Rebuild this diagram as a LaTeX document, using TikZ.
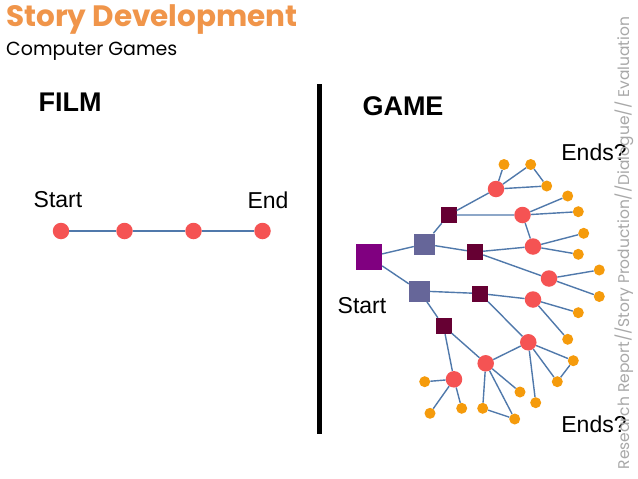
\documentclass[tikz,border=0pt]{standalone}
\usepackage{fontspec}
\setmainfont{Liberation Sans}
\newfontfamily\gothic{Poppins}
\definecolor{ttlorange}{HTML}{F0954A}
\definecolor{redc}{HTML}{F55353}
\definecolor{orc}{HTML}{F59B0C}
\definecolor{linec}{HTML}{5079AB}
\definecolor{purp}{HTML}{800080}
\definecolor{slate}{HTML}{666699}
\definecolor{maroon}{HTML}{660033}
\definecolor{sidegray}{HTML}{A8A8A8}
\tikzset{
  redn/.style={circle,fill=redc,inner sep=0pt,minimum size=16.5pt},
  orn/.style={circle,fill=orc,inner sep=0pt,minimum size=11pt},
  startsq/.style={rectangle,fill=purp,inner sep=0pt,minimum size=26pt},
  slatesq/.style={rectangle,fill=slate,inner sep=0pt,minimum size=21pt},
  darksq/.style={rectangle,fill=maroon,inner sep=0pt,minimum size=16pt},
  edge/.style={draw=linec,line width=1.4pt},
  lbl/.style={font=\fontsize{23}{26}\selectfont,inner sep=0pt},
  hdr/.style={font=\fontsize{27}{30}\selectfont\bfseries,inner sep=0pt}
}
\begin{document}
\begin{tikzpicture}[x=1pt,y=-1pt]
\useasboundingbox (0,0) rectangle (638,479);
\fill[white] (0,0) rectangle (638,479);
% titles
\node[anchor=west,inner sep=0pt,text=ttlorange,font=\gothic\fontsize{29.5}{32}\selectfont\bfseries] (title) at (6,20) {Story Development};
\node[anchor=west,inner sep=0pt,font=\gothic\fontsize{19}{22}\selectfont] (sub) at (6,51) {Computer Games};
% divider
\coordinate (dtop) at (319.5,84);
\coordinate (dbot) at (319.5,434);
\draw[line width=4.5pt] (dtop) -- (dbot);
% headers
\node[hdr] (film) at (70,102) {FILM};
\node[hdr] (game) at (403,106) {GAME};
% film
\node[lbl] (fstart) at (58,200) {Start};
\node[lbl] (fend) at (268,200) {End};
\node[redn] (f1) at (61,231) {};
\node[redn] (f2) at (124.5,231) {};
\node[redn] (f3) at (193.5,231) {};
\node[redn] (f4) at (262.5,231) {};
\draw[edge] (f1) -- (f2) -- (f3) -- (f4);
% game tree nodes
\node[startsq] (s) at (369,257) {};
\node[slatesq] (a) at (424.5,244) {};
\node[slatesq] (b) at (419.5,291) {};
\node[darksq] (d1) at (448.5,215) {};
\node[darksq] (d2) at (475,252) {};
\node[darksq] (d3) at (480,293.5) {};
\node[darksq] (d4) at (443.5,326) {};
\node[redn] (r1) at (496,189) {};
\node[redn] (r2) at (522.5,215) {};
\node[redn] (r3) at (533,246.5) {};
\node[redn] (r4) at (549,278.5) {};
\node[redn] (r5) at (533,299.5) {};
\node[redn] (r6) at (528.3,342.3) {};
\node[redn] (r7) at (485.7,363.3) {};
\node[redn] (r8) at (454,379.3) {};
\node[orn] (o1) at (504,164.5) {};
\node[orn] (o2) at (530.7,164.5) {};
\node[orn] (o3) at (546.7,186) {};
\node[orn] (o4) at (567.7,196) {};
\node[orn] (o5) at (578.3,211.7) {};
\node[orn] (o6) at (583.7,233.3) {};
\node[orn] (o7) at (578.3,254.3) {};
\node[orn] (o8) at (599.3,270) {};
\node[orn] (o9) at (599.3,296.5) {};
\node[orn] (o10) at (578.3,312.7) {};
\node[orn] (o11) at (567.7,339.3) {};
\node[orn] (o12) at (573.3,360.7) {};
\node[orn] (o13) at (557.3,381.7) {};
\node[orn] (o14) at (535.7,402.7) {};
\node[orn] (o15) at (520,392) {};
\node[orn] (o16) at (514.7,419) {};
\node[orn] (o17) at (482.7,408.3) {};
\node[orn] (o18) at (461.7,408.3) {};
\node[orn] (o19) at (430,413.3) {};
\node[orn] (o20) at (424.7,381.7) {};
% edges
\path[edge]
  (s) -- (a) (s) -- (b)
  (a) -- (d1) (a) -- (d2)
  (d1) -- (r1) (d1) -- (r2)
  (r1) -- (o1) (r1) -- (o2) (r1) -- (o3) (o2) -- (o3)
  (r2) -- (o4) (r2) -- (o5) (r2) -- (r3)
  (d2) -- (r3) (d2) -- (r4)
  (r3) -- (o6) (r3) -- (o7)
  (r4) -- (o8) (r4) -- (o9)
  (b) -- (d3) (b) -- (d4)
  (d3) -- (r5) (d3) -- (r6)
  (r5) -- (o10) (r5) -- (o11)
  (r6) -- (o12) (r6) -- (o13) (r6) -- (o14) (r6) -- (r7) (o12) -- (o13)
  (d4) -- (r7) (d4) -- (r8)
  (r7) -- (o15) (r7) -- (o16) (r7) -- (o17) (o17) -- (o16)
  (r8) -- (o20) (r8) -- (o19) (r8) -- (o18);
% game labels
\node[lbl] (gstart) at (362,305.5) {Start};
\node[lbl] (ends1) at (594,152.5) {Ends?};
\node[lbl] (ends2) at (594,424) {Ends?};
% side text on top
\node[rotate=90,inner sep=0pt,text=sidegray,font=\gothic\fontsize{15.5}{18}\selectfont] (side) at (624,243) {Research Report//Story Production//Dialogue// Evaluation};
\end{tikzpicture}
\end{document}
